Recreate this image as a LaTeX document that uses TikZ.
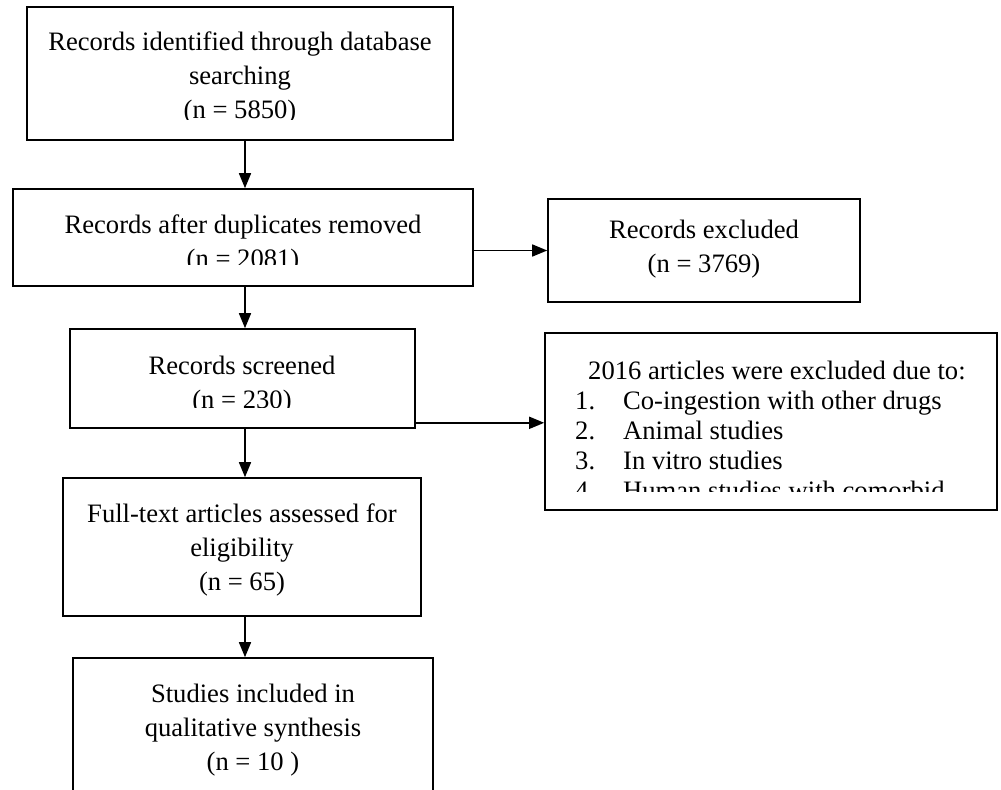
\documentclass[tikz,border=0pt]{standalone}
\usepackage{fontspec}
\setmainfont{Liberation Serif}
\usetikzlibrary{arrows.meta}
\newcommand{\flowfont}{\fontsize{26.6bp}{34bp}\selectfont}
\newcommand{\listfont}{\fontsize{26.6bp}{30bp}\selectfont}
\begin{document}
\begin{tikzpicture}[x=1bp,y=-1bp,>={Triangle[length=15bp,width=12bp]},
  box/.style={draw,rectangle,line width=1.6bp,inner sep=0pt},
  txt/.style={align=center,font=\flowfont,inner sep=0pt},
  link/.style={->,line width=1.6bp}]
\clip (0,0) rectangle (1001,790);
%%
\node[box,minimum width=426bp,minimum height=133bp] (ident) at (240,73.5) {};
\node[box,minimum width=460bp,minimum height=97bp] (dupl) at (243,237.5) {};
\node[box,minimum width=312bp,minimum height=103bp] (excl) at (704,250.5) {};
\node[box,minimum width=345bp,minimum height=99bp] (screen) at (242.5,378.5) {};
\node[box,minimum width=452bp,minimum height=177bp] (reasons) at (771,421.5) {};
\node[box,minimum width=358bp,minimum height=138bp] (full) at (242,547) {};
\node[box,minimum width=360bp,minimum height=152bp] (incl) at (253,734) {};
\coordinate (spine) at (245,0);
%% texts, last lines cut off by the text boxes
\begin{scope}
  \clip (27,7) rectangle (453,119);
  \node[txt] (identtxt) at (240,78) {Records identified through database\\searching\\(n = 5850)};
\end{scope}
\begin{scope}
  \clip (13,189) rectangle (473,264);
  \node[txt] (dupltxt) at (243,244) {Records after duplicates removed\\(n = 2081)};
\end{scope}
\node[txt] (excltxt) at (704,249) {Records excluded\\(n = 3769)};
\begin{scope}
  \clip (70,329) rectangle (415,407);
  \node[txt] (screentxt) at (242,385) {Records screened\\(n = 230)};
\end{scope}
\begin{scope}
  \clip (545,333) rectangle (997,491);
  \node[align=left,font=\listfont,inner sep=0pt,anchor=north west] (reasonstxt) at (575,361)
    {\hspace*{13bp}2016 articles were excluded due to:\\
     \makebox[48bp][l]{1.}Co-ingestion with other drugs\\
     \makebox[48bp][l]{2.}Animal studies\\
     \makebox[48bp][l]{3.}In vitro studies\\
     \makebox[48bp][l]{4.}Human studies with comorbid};
\end{scope}
\node[txt] (fulltxt) at (242,550) {Full-text articles assessed for\\eligibility\\(n = 65)};
\node[txt] (incltxt) at (253,730) {Studies included in\\qualitative synthesis\\(n = 10 )};
%%
\draw[link] (ident.south -| spine) -- (dupl.north -| spine);
\draw[link] (excl.west -| dupl.east) -- (excl.west);
\draw[link] (dupl.south -| spine) -- (screen.north -| spine);
\coordinate (side) at ([yshift=6bp]screen.south east);
\draw[link] (side) -- (side -| reasons.west);
\draw[link] (screen.south -| spine) -- (full.north -| spine);
\draw[link] (full.south -| spine) -- (incl.north -| spine);
%
\end{tikzpicture}
\end{document}
